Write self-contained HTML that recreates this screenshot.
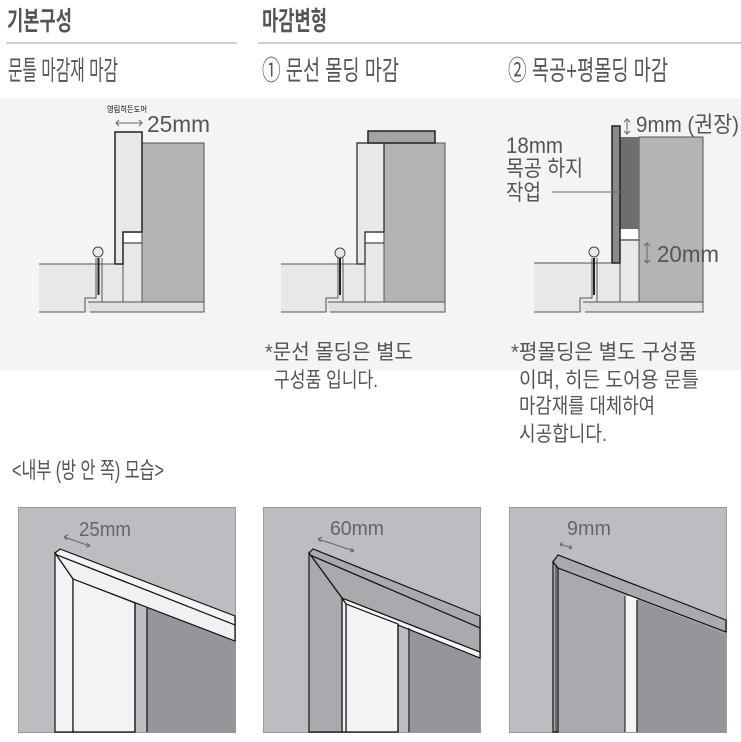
<!DOCTYPE html>
<html><head><meta charset="utf-8"><style>
html,body{margin:0;padding:0;background:#fff}
svg{display:block}
text{font-family:"Liberation Sans","Noto Sans CJK KR",sans-serif;fill:#555}
</style></head><body>
<svg width="741" height="742" viewBox="0 0 741 742" xmlns="http://www.w3.org/2000/svg">
<rect x="0" y="98" width="741" height="272" fill="#f4f4f4"/>
<text x="7" y="30" style="font-size:26px;font-weight:bold" textLength="65" lengthAdjust="spacingAndGlyphs">기본구성</text>
<text x="262" y="30" style="font-size:26px;font-weight:bold" textLength="65" lengthAdjust="spacingAndGlyphs">마감변형</text>
<rect x="6" y="42" width="231" height="2" fill="#cfcfcf"/>
<rect x="258" y="42" width="483" height="2" fill="#cfcfcf"/>
<text x="8" y="80" style="font-size:27px" textLength="110" lengthAdjust="spacingAndGlyphs">문틀 마감재 마감</text>
<text x="262" y="80" style="font-size:27px" textLength="137" lengthAdjust="spacingAndGlyphs">① 문선 몰딩 마감</text>
<text x="508" y="80" style="font-size:27px" textLength="160" lengthAdjust="spacingAndGlyphs">② 목공+평몰딩 마감</text>

<g stroke="#222" stroke-width="1.5">
<rect x="142" y="143" width="62" height="159" fill="#b4b4b4" stroke="#555" stroke-width="1"/>
<rect x="39" y="264" width="103" height="48" fill="#e8e8e8" stroke="none"/>
<rect x="123" y="232" width="19" height="70" fill="#e8e8e8" stroke="#555" stroke-width="1"/>
<rect x="124" y="233" width="17" height="10" fill="#fff" stroke="none"/>
<line x1="123" y1="243" x2="142" y2="243" stroke-width="1"/>
<path d="M115 132 H142 V232 H123 V264 H115 Z" fill="#e8e8e8"/>
<line x1="39" y1="264" x2="115" y2="264" stroke="#555" stroke-width="1"/>
<path d="M88 302 H204 V312 H90" fill="#e0e0e0" stroke="#555" stroke-width="1"/>
<path d="M39 312 H85 V298 H96 V258" fill="none" stroke="#555" stroke-width="1"/>
<path d="M102 258 V302" fill="none" stroke="#555" stroke-width="1"/>
<line x1="98.5" y1="258" x2="98.5" y2="295" stroke-width="2"/>
<circle cx="98" cy="252" r="5" fill="#e8e8e8" stroke="#444" stroke-width="1"/>
<rect x="384" y="143" width="61" height="159" fill="#b4b4b4" stroke="#555" stroke-width="1"/>
<rect x="281" y="264" width="103" height="48" fill="#e8e8e8" stroke="none"/>
<rect x="365" y="232" width="19" height="70" fill="#e8e8e8" stroke="#555" stroke-width="1"/>
<rect x="366" y="233" width="17" height="10" fill="#fff" stroke="none"/>
<line x1="365" y1="243" x2="384" y2="243" stroke-width="1"/>
<path d="M357 143 H384 V232 H365 V264 H357 Z" fill="#e8e8e8" stroke-width="1.2"/>
<rect x="368" y="131" width="67" height="12" fill="#a4a4a4"/>
<line x1="281" y1="264" x2="357" y2="264" stroke="#555" stroke-width="1"/>
<path d="M328 302 H445 V312 H330" fill="#e0e0e0" stroke="#555" stroke-width="1"/>
<path d="M281 312 H326 V298 H338 V258" fill="none" stroke="#555" stroke-width="1"/>
<path d="M343 258 V302" fill="none" stroke="#555" stroke-width="1"/>
<line x1="340" y1="258" x2="340" y2="295" stroke-width="2"/>
<circle cx="340" cy="253" r="5" fill="#e8e8e8" stroke="#444" stroke-width="1"/>
<rect x="639" y="137" width="64" height="165" fill="#b4b4b4" stroke="#555" stroke-width="1"/>
<rect x="534" y="263" width="105" height="49" fill="#e8e8e8" stroke="none"/>
<rect x="620" y="229" width="19" height="73" fill="#e8e8e8" stroke="#555" stroke-width="1"/>
<rect x="621" y="229" width="17" height="10" fill="#fff" stroke="none"/>
<line x1="620" y1="240" x2="639" y2="240" stroke-width="1"/>
<rect x="620" y="137" width="19" height="92" fill="#6e6e70" stroke="none"/>
<rect x="612" y="126" width="8" height="137" fill="#8a8a8a"/>
<line x1="534" y1="263" x2="612" y2="263" stroke="#555" stroke-width="1"/>
<path d="M583 302 H703 V312 H585" fill="#e0e0e0" stroke="#555" stroke-width="1"/>
<path d="M534 312 H580 V298 H592 V258" fill="none" stroke="#555" stroke-width="1"/>
<path d="M597 258 V302" fill="none" stroke="#555" stroke-width="1"/>
<line x1="594" y1="258" x2="594" y2="295" stroke-width="2"/>
<circle cx="594" cy="252" r="5" fill="#e8e8e8" stroke="#444" stroke-width="1"/>
<line x1="552" y1="192" x2="630" y2="192" stroke="#666" stroke-width="1"/>
</g>
<text x="107" y="112" style="font-size:8px;fill:#000" textLength="40" lengthAdjust="spacingAndGlyphs">영림히든도어</text>
<path d="M116 123 H142 M119 120 L116 123 L119 126 M139 120 L142 123 L139 126" stroke="#666" fill="none" stroke-width="1"/>
<text x="147" y="132" style="font-size:23px" textLength="63" lengthAdjust="spacingAndGlyphs">25mm</text>
<path d="M627 119 V134 M624 122 L627 119 L630 122 M624 131 L627 134 L630 131" stroke="#666" fill="none" stroke-width="1"/>
<text x="636" y="132" style="font-size:22px" textLength="103" lengthAdjust="spacingAndGlyphs">9mm (권장)</text>
<text x="506" y="153" style="font-size:22px" textLength="57" lengthAdjust="spacingAndGlyphs">18mm</text>
<text x="506" y="176" style="font-size:22px" textLength="77" lengthAdjust="spacingAndGlyphs">목공 하지</text>
<text x="506" y="200" style="font-size:22px" textLength="35" lengthAdjust="spacingAndGlyphs">작업</text>
<path d="M647 243 V263 M644 246 L647 243 L650 246 M644 260 L647 263 L650 260" stroke="#666" fill="none" stroke-width="1"/>
<text x="657" y="262" style="font-size:23px" textLength="62" lengthAdjust="spacingAndGlyphs">20mm</text>

<text x="265" y="359" style="font-size:21px" textLength="148" lengthAdjust="spacingAndGlyphs">*문선 몰딩은 별도</text>
<text x="274" y="387" style="font-size:21px" textLength="104" lengthAdjust="spacingAndGlyphs">구성품 입니다.</text>
<text x="511" y="359" style="font-size:21px" textLength="186" lengthAdjust="spacingAndGlyphs">*평몰딩은 별도 구성품</text>
<text x="519" y="387" style="font-size:21px" textLength="180" lengthAdjust="spacingAndGlyphs">이며, 히든 도어용 문틀</text>
<text x="519" y="413" style="font-size:21px" textLength="136" lengthAdjust="spacingAndGlyphs">마감재를 대체하여</text>
<text x="519" y="441" style="font-size:21px" textLength="88" lengthAdjust="spacingAndGlyphs">시공합니다.</text>
<text x="12" y="478" style="font-size:23px" textLength="152" lengthAdjust="spacingAndGlyphs">&lt;내부 (방 안 쪽) 모습&gt;</text>

<rect x="18.5" y="507.5" width="217" height="225" fill="#bcbdc0" stroke="#9a9a9c"/>
<g stroke="#111" stroke-width="1.2">
<path d="M147 608 L235 641 V732 H147 Z" fill="#959699" stroke="none"/>
<path d="M55 553 L60 549 L235 616 V625 L57 555 Z" fill="#f2f3f5"/>
<path d="M55 553 L73 579 L235 641 V625 L57 555 Z" fill="#f0f1f3"/>
<path d="M55 553 L73 579 V732 H55 Z" fill="#f2f3f5"/>
<path d="M73 579 L135 603 V732 H73 Z" fill="#f2f3f5"/>
<line x1="135" y1="603" x2="135" y2="732"/>
<line x1="147" y1="608" x2="147" y2="732"/>
</g>
<path d="M64 537 L90 546 M64 537 L68 535 M64 537 L67 540 M90 546 L86 547 M90 546 L87 543" stroke="#666" fill="none" stroke-width="1"/>
<text x="79" y="536" style="font-size:20px;fill:#666" textLength="52" lengthAdjust="spacingAndGlyphs">25mm</text>

<rect x="263.5" y="507.5" width="217" height="225" fill="#bcbdc0" stroke="#9a9a9c"/>
<g stroke="#111" stroke-width="1.2">
<path d="M410 630 L480 658 V732 H410 Z" fill="#959699" stroke="none"/>
<path d="M342 598 L480 652 V658 L346 604 Z" fill="#f2f3f5"/>
<path d="M346 604 L398 624 V732 H346 Z" fill="#f2f3f5"/>
<path d="M342 598 V732 H346 V604 Z" fill="#f2f3f5"/>
<path d="M309 553 L313 549 L480 616 V628 L310 555 Z" fill="#a9aaad"/>
<path d="M309 553 L342 598 L480 652 V628 L310 555 Z" fill="#a9aaad"/>
<path d="M309 553 L342 598 V732 H309 Z" fill="#a9aaad"/>
<line x1="398" y1="624" x2="398" y2="732"/>
<line x1="409" y1="628" x2="409" y2="732"/>
</g>
<path d="M318 539 L354 551 M318 539 L322 537 M318 539 L321 542 M354 551 L350 552 M354 551 L351 548" stroke="#666" fill="none" stroke-width="1"/>
<text x="330" y="535" style="font-size:20px;fill:#666" textLength="54" lengthAdjust="spacingAndGlyphs">60mm</text>

<rect x="509.5" y="507.5" width="217" height="225" fill="#bcbdc0" stroke="#9a9a9c"/>
<g stroke="#111" stroke-width="1.2">
<path d="M558 568 L726 632 V732 H558 Z" fill="#a9aaad" stroke="none"/>
<path d="M638 600 L726 634 V732 H638 Z" fill="#959699" stroke="none"/>
<rect x="625" y="596" width="12" height="136" fill="#f2f3f5" stroke="none"/>
<line x1="625" y1="596" x2="625" y2="732" stroke-width="1"/>
<line x1="637" y1="600" x2="637" y2="732"/>
<path d="M553 562 L558 555 L726 620 V632 L558 568 Z" fill="#a9aaad"/>
<path d="M553 562 L558 568 V732 H553 Z" fill="#a9aaad"/>
<line x1="556" y1="566" x2="556" y2="732" stroke-width="0.8"/>
</g>
<path d="M560 544 L572 548 M560 544 L563 542 M560 544 L562 547 M572 548 L569 549 M572 548 L570 545" stroke="#666" fill="none" stroke-width="1"/>
<text x="567" y="535" style="font-size:20px;fill:#666" textLength="44" lengthAdjust="spacingAndGlyphs">9mm</text>
</svg>
</body></html>
